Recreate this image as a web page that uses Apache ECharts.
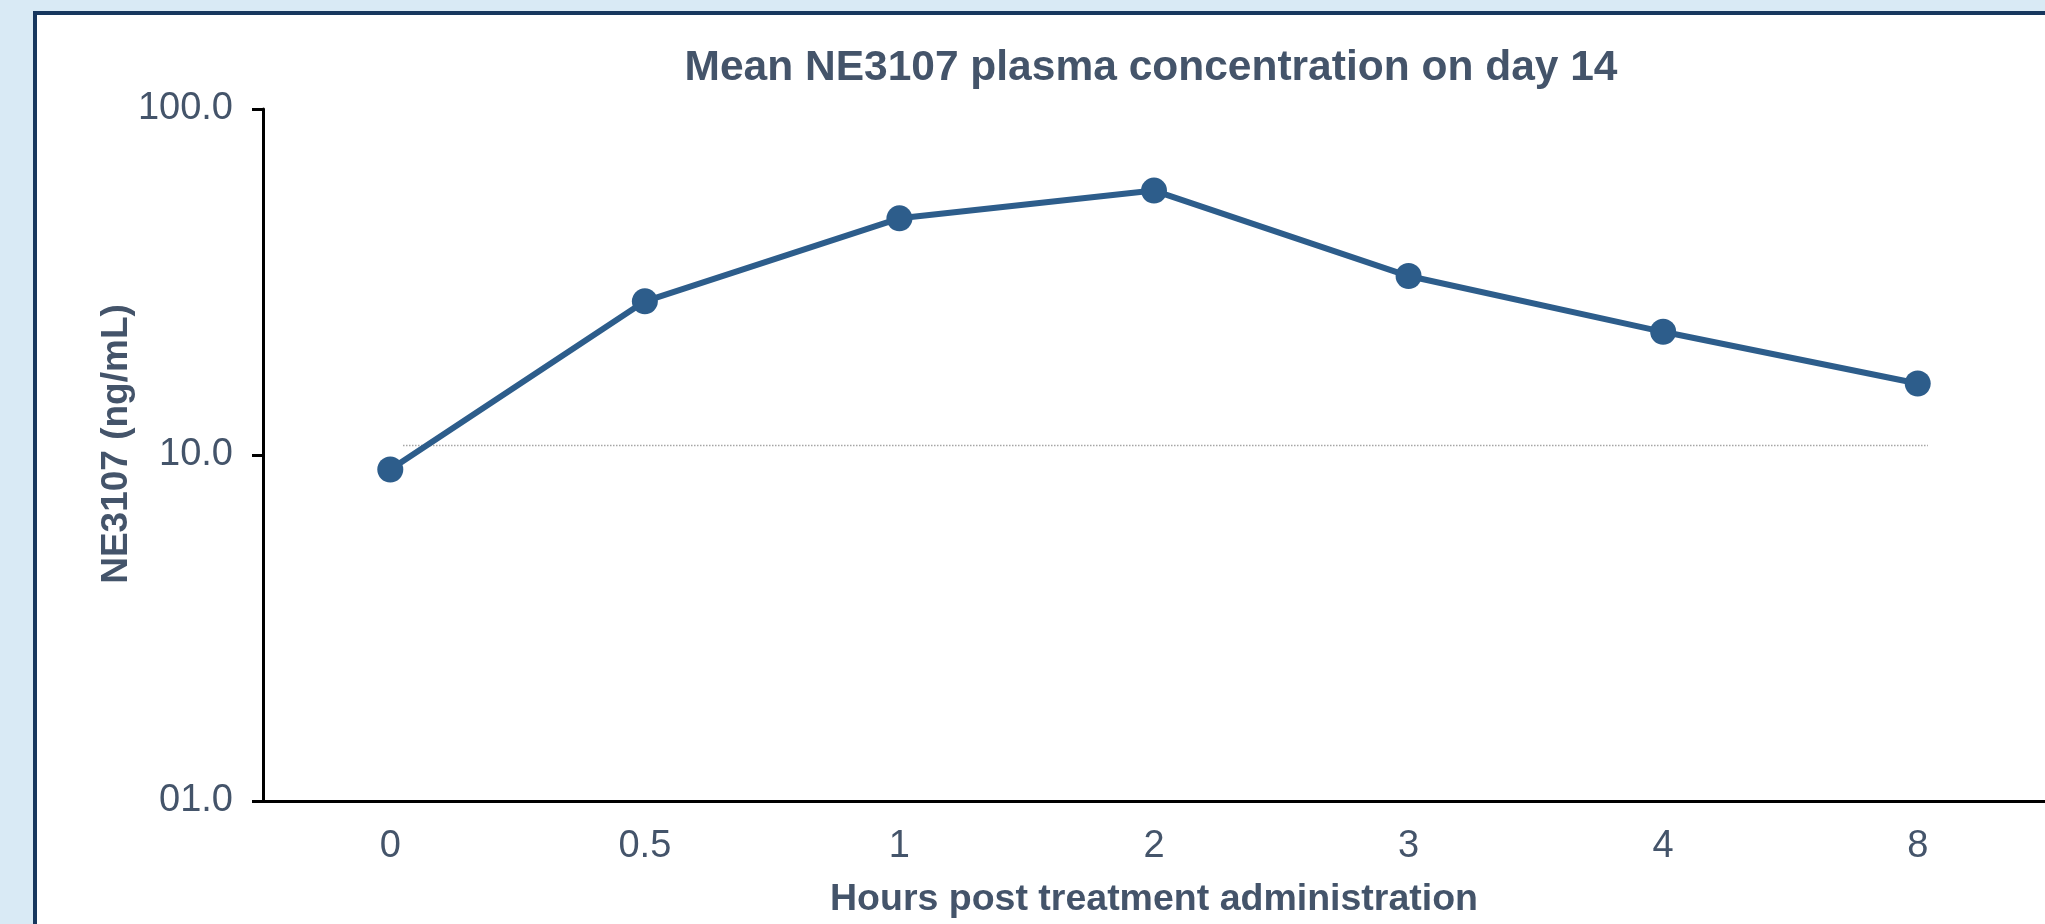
<!DOCTYPE html>
<html>
<head>
    <meta charset="utf-8">
    <title>Mean NE3107 plasma concentration on day 14</title>
    <script src="https://cdn.jsdelivr.net/npm/echarts@6/dist/echarts.min.js"></script>
    <style>
        html, body {
            margin: 0;
            padding: 0;
            width: 2045px;
            height: 924px;
            overflow: hidden;
            background: #d9eaf5;
        }

        .frame {
            position: absolute;
            left: 33px;
            top: 11px;
            width: 2100px;
            height: 1000px;
            border-left: 4px solid #17375e;
            border-top: 4px solid #17375e;
            background: #fff;
        }

        #main {
            position: absolute;
            left: 0;
            top: 0;
            width: 2045px;
            height: 924px;
        }
    </style>
</head>
<body>
<div class="frame"></div>
<div id="main"></div>
<script>
    // 数据
    var hours = ['0', '0.5', '1', '2', '3', '4', '8'];
    var meanConc = [9.08, 27.8, 48.3, 58.1, 32.9, 22.7, 16.1];
    var refLevel = 10.65;
    var refSpan = [0.05, 6.04];   // 参考虚线起止（按类目序号）
    var yTickLabels = ['01.0', '10.0', '100.0'];

    var textColor = '#44546a';
    var font = 'Liberation Sans, Arial, sans-serif';

    var myChart = echarts.init(document.getElementById('main'));

    var option = {
        backgroundColor: 'transparent',
        animation: false,
        title: {
            text: 'Mean NE3107 plasma concentration on day 14',
            left: 1146,
            top: 42,
            textAlign: 'center',
            textStyle: {
                color: textColor,
                fontFamily: font,
                fontWeight: 'bold',
                fontSize: 42.5
            }
        },
        grid: {
            left: 263,
            top: 109,
            width: 1786,
            height: 695
        },
        xAxis: [
            {
                type: 'category',
                data: hours,
                boundaryGap: true,
                name: 'Hours post treatment administration',
                nameLocation: 'middle',
                nameGap: 80,
                nameTextStyle: {
                    color: textColor,
                    fontFamily: font,
                    fontWeight: 'bold',
                    fontSize: 37.5,
                    verticalAlign: 'top'
                },
                axisLine: {lineStyle: {color: '#000', width: 3}},
                axisTick: {show: false},
                axisLabel: {
                    color: textColor,
                    fontFamily: font,
                    fontSize: 38,
                    margin: 27
                },
                splitLine: {show: false}
            },
            {
                // 隐藏的数值轴，仅用于放置参考虚线
                type: 'value',
                min: -0.5,
                max: hours.length - 0.5,
                show: false
            }
        ],
        yAxis: {
            type: 'log',
            logBase: 10,
            min: 1,
            max: 100,
            name: 'NE3107 (ng/mL)',
            nameLocation: 'middle',
            nameRotate: 90,
            nameGap: 128,
            nameMoveOverlap: false,
            nameTextStyle: {
                color: textColor,
                fontFamily: font,
                fontWeight: 'bold',
                fontSize: 37,
                padding: [0, 0, 0, 22]
            },
            axisLine: {show: true, onZero: false, lineStyle: {color: '#000', width: 3}},
            axisTick: {show: true, length: 11, lineStyle: {color: '#000', width: 3}},
            axisLabel: {
                color: textColor,
                fontFamily: font,
                fontSize: 38,
                margin: 30,
                formatter: function (v) {
                    var i = Math.round(Math.log(v) / Math.LN10);
                    return yTickLabels[i] !== undefined ? yTickLabels[i] : '';
                }
            },
            splitLine: {show: false}
        },
        series: [
            {
                name: 'ref',
                type: 'line',
                xAxisIndex: 1,
                data: [[refSpan[0], refLevel], [refSpan[1], refLevel]],
                symbol: 'none',
                silent: true,
                lineStyle: {color: '#a6a6a6', width: 1.5, type: 'dotted'},
                z: 1
            },
            {
                name: 'NE3107',
                type: 'line',
                data: meanConc,
                symbol: 'circle',
                symbolSize: 26,
                lineStyle: {color: '#2d5d8b', width: 6},
                itemStyle: {color: '#2d5d8b'},
                z: 3
            }
        ]
    };

    myChart.setOption(option);
</script>
</body>
</html>
